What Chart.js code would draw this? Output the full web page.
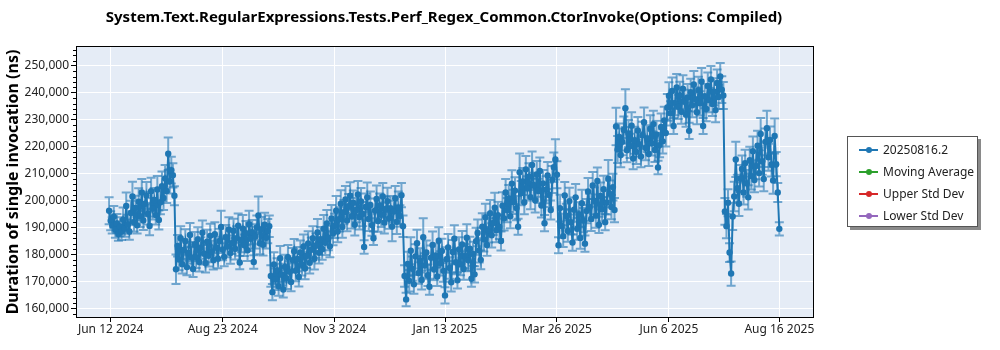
<!DOCTYPE html>
<html>
<head>
<meta charset="utf-8">
<script src="https://cdn.jsdelivr.net/npm/chart.js@4.4.1/dist/chart.umd.min.js"></script>
<style>
  html, body { margin: 0; padding: 0; background: #fff; }
  #wrap { position: relative; width: 1000px; height: 350px; }
  #legend {
    position: absolute; left: 847px; top: 136px; width: 131px; height: 91px;
    box-sizing: border-box; border: 1px solid #555; background: #fff;
    box-shadow: 3px 3px 0 #8a8a8a; padding-top: 2px;
    font: 12px "Noto Sans", sans-serif; color: #222;
  }
  #legend .row { height: 22px; line-height: 22px; position: relative; padding-left: 35px; white-space: nowrap; }
  #legend .sw { position: absolute; left: 11px; top: 10px; width: 19px; height: 1.5px; }
  #legend .sw i { position: absolute; left: 7px; top: -2.5px; width: 6px; height: 6px; border-radius: 50%; }
</style>
</head>
<body>
<div id="wrap">
  <canvas id="chart" width="1000" height="350"></canvas>
  <div id="legend"></div>
</div>
<script>
document.addEventListener('DOMContentLoaded', function () {

    /* ========================================================
       DATA  (one run per day, day 0 = Jun 12 2024; values in thousands of ns)
    ======================================================== */
    const TITLE = 'System.Text.RegularExpressions.Tests.Perf_Regex_Common.CtorInvoke(Options: Compiled)';
    const FIRST_DAY = -1;

    const valuesK = [
        // Jun 11 - Jul 23 2024
        196.2, 192.5, 190.8, 194.0, 189.2, 191.5, 187.6, 190.3, 188.4, 192.9, 189.6, 198.0, 191.2, 188.5, 195.4, 201.5, 192.0, 197.3, 190.8, 199.6,
        194.2, 203.0, 192.6, 198.8, 201.9, 195.1, 190.6, 203.5, 197.0, 200.2, 194.6, 204.1, 192.8, 199.4, 205.3, 201.0, 208.2, 203.6, 217.4, 207.1,
        211.3, 209.4, 201.8,
        // Jul 24 - Sep 22 2024
        174.5, 183.2, 178.1, 186.0, 176.4, 181.7, 184.9, 175.3, 180.6, 187.2, 178.9, 174.6, 183.8, 179.0, 185.6, 177.2, 182.4, 188.1, 180.3, 176.8,
        184.7, 179.5, 186.9, 181.1, 177.9, 187.5, 182.6, 178.4, 185.0, 190.2, 181.8, 179.1, 186.4, 183.0, 189.3, 180.5, 184.2, 188.8, 182.1, 186.0,
        190.7, 177.0, 185.3, 189.6, 183.4, 187.9, 181.6, 191.2, 185.8, 188.3, 177.2, 186.7, 190.0, 194.5, 184.1, 189.4, 183.6, 191.0, 186.2, 188.7,
        190.5,
        // Sep 23 - Dec 17 2024
        172.0, 166.0, 176.3, 170.8, 174.1, 168.2, 178.6, 172.5, 167.0, 175.4, 171.2, 179.0, 173.6, 169.8, 177.9, 181.2, 174.0, 178.3, 171.6, 180.7,
        176.2, 182.9, 174.8, 179.5, 184.1, 176.9, 181.8, 186.0, 178.4, 183.3, 188.2, 180.6, 185.7, 182.0, 189.6, 184.3, 191.5, 186.1, 183.0, 193.4,
        187.9, 190.6, 196.2, 188.5, 193.0, 198.8, 190.2, 195.7, 200.4, 192.6, 197.9, 201.8, 194.1, 199.2, 191.0, 196.5, 202.3, 193.8, 199.7, 195.0,
        182.8, 197.6, 201.2, 193.2, 198.4, 190.9, 186.0, 196.3, 200.6, 192.4, 198.1, 194.7, 201.5, 191.8, 196.9, 199.8, 193.5, 197.2, 190.4, 195.9,
        200.9, 192.1, 197.4, 194.3, 202.0, 190.5,
        // Dec 18 2024 - Feb 4 2025
        172.0, 163.3, 176.5, 170.2, 181.4, 174.7, 168.9, 179.3, 184.2, 173.1, 177.8, 170.5, 186.4, 175.9, 180.7, 172.3, 168.0, 178.8, 183.5, 174.4,
        179.6, 171.8, 185.1, 176.7, 181.3, 173.9, 164.8, 178.2, 182.6, 175.0, 169.7, 180.9, 185.8, 177.1, 170.4, 181.9, 176.3, 183.7, 174.6, 179.4,
        186.2, 177.8, 182.1, 171.0, 180.2, 172.6, 184.9, 188.0, 181.5,
        // Feb 5 - Mar 26 2025
        178.0, 190.3, 185.6, 193.8, 183.5, 188.9, 195.2, 187.1, 191.7, 197.4, 189.0, 194.6, 190.2, 185.0, 198.1, 193.4, 203.0, 196.5, 200.8, 194.2,
        206.3, 199.5, 203.7, 197.2, 190.3, 210.5, 202.8, 207.1, 199.4, 211.6, 204.5, 208.9, 201.3, 213.2, 205.8, 200.1, 209.7, 203.6, 211.0, 198.2,
        206.4, 191.6, 204.0, 209.3, 202.1, 196.5, 207.8, 212.4, 215.3, 209.6,
        // Mar 27 - May 2 2025
        183.4, 197.2, 190.6, 186.8, 201.9, 194.3, 188.7, 199.8, 192.0, 184.4, 196.6, 201.2, 189.5, 194.9, 186.1, 199.0, 192.7, 184.0, 196.1, 203.4,
        197.5, 193.2, 205.6, 199.9, 194.4, 207.3, 191.0, 201.7, 196.8, 204.2, 192.0, 199.3, 208.1, 202.5, 197.6, 205.0, 196.5,
        // May 3 - Jun 4 2025
        227.5, 219.0, 223.6, 216.9, 221.8, 226.2, 234.3, 218.7, 224.9, 220.3, 227.8, 215.6, 222.4, 218.1, 226.0, 220.9, 216.4, 224.3, 229.1, 219.5,
        223.0, 217.3, 226.7, 221.2, 228.4, 218.8, 224.6, 212.3, 220.6, 227.3, 222.0, 229.8, 225.1,
        // Jun 5 - Jul 11 2025
        234.6, 238.9, 232.4, 240.7, 227.7, 236.2, 242.0, 234.8, 239.1, 233.0, 241.5, 236.7, 231.9, 238.3, 225.9, 240.2, 235.4, 243.1, 237.6, 232.8,
        241.0, 236.1, 244.2, 227.7, 238.8, 234.0, 242.6, 237.3, 245.0, 235.9, 240.4, 233.6, 243.7, 238.5, 246.1, 241.2, 239.0,
        // Jul 12 - Aug 16 2025
        196.0, 190.5, 199.2, 180.7, 172.9, 194.1, 201.5, 215.3, 204.6, 198.8, 208.2, 211.7, 203.0, 213.9, 206.4, 201.2, 215.0, 209.1, 218.3, 207.6,
        212.9, 220.4, 210.2, 224.7, 214.6, 208.0, 221.8, 226.9, 216.1, 222.5, 213.4, 207.5, 224.0, 213.5, 203.0, 189.5
    ];

    const errorsK = [
        5.0, 3.5, 3.0, 4.0, 3.0, 3.5, 2.5, 3.5, 3.0, 4.5, 3.0, 5.0, 3.5, 3.0, 4.5, 5.5, 3.5, 4.5, 3.0, 5.0,
        4.0, 5.0, 3.5, 4.5, 5.0, 4.0, 3.5, 5.0, 4.0, 4.5, 3.5, 5.0, 3.5, 4.5, 5.5, 4.5, 5.0, 4.5, 6.0, 4.5,
        5.0, 4.5, 3.5,

        5.5, 4.0, 4.0, 4.5, 3.5, 4.0, 4.5, 3.0, 4.0, 4.5, 4.0, 3.0, 4.5, 4.0, 4.5, 3.5, 4.0, 4.5, 4.0, 3.5,
        4.5, 4.0, 4.5, 4.0, 3.5, 4.5, 4.0, 3.5, 4.5, 6.0, 4.0, 3.5, 4.5, 4.0, 4.5, 4.0, 4.0, 4.5, 4.0, 4.5,
        4.5, 2.5, 4.5, 5.0, 4.0, 4.5, 4.0, 5.0, 4.5, 4.5, 2.5, 4.5, 4.5, 7.0, 4.0, 4.5, 4.0, 4.5, 4.0, 4.5,
        4.0,

        4.0, 3.0, 4.5, 4.0, 4.5, 3.5, 4.5, 4.0, 3.0, 4.5, 4.0, 4.5, 4.0, 3.5, 4.5, 4.5, 4.0, 4.5, 3.5, 4.5,
        4.0, 4.5, 4.0, 4.5, 4.5, 4.0, 4.5, 4.5, 4.0, 4.5, 5.0, 4.0, 4.5, 4.0, 5.0, 4.5, 5.0, 4.5, 4.0, 5.0,
        4.5, 4.5, 5.5, 4.0, 4.5, 5.0, 4.0, 4.5, 5.0, 4.0, 4.5, 5.0, 4.5, 4.5, 4.0, 4.5, 5.0, 4.5, 5.0, 4.5,
        2.5, 5.0, 5.5, 4.5, 5.0, 4.0, 2.5, 4.5, 5.0, 4.0, 4.5, 4.5, 5.0, 4.0, 4.5, 5.0, 4.0, 4.5, 5.5, 4.0,
        4.5, 4.5, 6.0, 4.0, 4.5, 4.0,

        4.0, 2.5, 4.5, 4.0, 5.0, 4.5, 3.5, 4.5, 5.0, 4.0, 4.5, 3.5, 7.0, 4.5, 4.5, 4.0, 3.0, 4.5, 5.0, 4.0,
        4.5, 3.5, 5.0, 4.5, 4.5, 4.0, 3.0, 4.5, 5.0, 4.0, 3.5, 4.5, 5.0, 4.5, 3.0, 4.5, 4.0, 5.0, 4.0, 4.5,
        5.0, 4.0, 4.5, 3.0, 4.5, 3.0, 5.0, 5.0, 4.5,

        3.5, 5.0, 4.5, 5.0, 4.0, 4.5, 5.0, 4.5, 4.5, 5.5, 4.5, 5.0, 4.5, 3.5, 5.0, 4.5, 5.0, 4.5, 5.0, 4.5,
        5.0, 4.5, 5.0, 4.5, 3.0, 7.0, 4.5, 5.0, 4.5, 5.0, 4.5, 5.0, 4.5, 5.0, 4.5, 4.5, 5.0, 4.5, 5.0, 4.5,
        5.0, 3.0, 5.0, 5.0, 4.5, 3.5, 5.0, 5.5, 7.5, 5.0,

        3.0, 5.0, 4.5, 4.0, 5.0, 4.5, 4.0, 5.0, 4.5, 3.0, 4.5, 5.0, 4.0, 4.5, 4.0, 5.0, 4.5, 3.0, 4.5, 5.0,
        5.0, 4.5, 5.0, 5.0, 4.5, 5.0, 3.0, 5.0, 4.5, 5.0, 3.0, 4.5, 7.0, 5.0, 4.5, 5.0, 4.5,

        7.0, 5.0, 5.0, 4.5, 5.0, 5.0, 7.0, 4.5, 5.0, 4.5, 5.0, 4.0, 5.0, 4.5, 5.0, 4.5, 4.0, 5.0, 5.5, 4.5,
        5.0, 4.5, 5.0, 4.5, 5.0, 4.5, 5.0, 2.5, 4.5, 5.0, 4.5, 5.0, 5.0,

        5.0, 5.0, 4.5, 5.0, 3.0, 4.5, 5.0, 4.5, 5.0, 4.5, 5.0, 4.5, 4.5, 5.0, 3.0, 5.0, 4.5, 5.0, 4.5, 4.5,
        5.0, 4.5, 5.0, 3.0, 4.5, 4.5, 5.0, 4.5, 5.0, 4.5, 5.0, 4.5, 5.0, 4.5, 5.0, 5.0, 5.0,

        5.0, 4.5, 5.0, 3.5, 4.5, 5.0, 5.5, 6.5, 5.0, 4.5, 5.0, 5.0, 4.5, 5.0, 5.0, 4.5, 5.0, 5.0, 5.5, 4.5,
        5.0, 5.5, 5.0, 6.0, 5.0, 4.5, 5.0, 6.5, 5.0, 5.0, 4.5, 5.0, 6.5, 4.5, 3.5, 2.5
    ];

    const tickDays   = [0, 72, 144, 215, 287, 359, 430];
    const tickLabels = ['Jun 12 2024', 'Aug 23 2024', 'Nov 3 2024', 'Jan 13 2025', 'Mar 26 2025', 'Jun 6 2025', 'Aug 16 2025'];
    const yTicks     = [160000, 170000, 180000, 190000, 200000, 210000, 220000, 230000, 240000, 250000];

    const seriesNames  = ['20250816.2', 'Moving Average', 'Upper Std Dev', 'Lower Std Dev'];
    const seriesColors = ['#1f77b4', '#2ca02c', '#d62728', '#9467bd'];

    const FONT = '"Noto Sans", sans-serif';

    const values = valuesK.map(v => v * 1000);
    const errors = errorsK.map(v => v * 1000);

    /* ========================================================
       PLUGINS
    ======================================================== */
    const plotFrame = {
        id: 'plotFrame',
        beforeDraw(chart) {
            const { ctx, chartArea: a } = chart;
            ctx.save();
            ctx.fillStyle = '#e5ecf6';
            ctx.fillRect(a.left, a.top, a.right - a.left, a.bottom - a.top);
            ctx.restore();
        },
        afterDraw(chart) {
            const { ctx, chartArea: a } = chart;
            const y = chart.scales.y;
            ctx.save();
            ctx.strokeStyle = '#000';
            ctx.lineWidth = 1;
            ctx.strokeRect(a.left + 0.5, a.top + 0.5, a.right - a.left - 1, a.bottom - a.top - 1);
            // minor ticks on the y axis
            ctx.beginPath();
            for (let v = 156000; v <= 257000; v += 2000) {
                if (v % 10000 === 0) continue;
                const py = Math.round(y.getPixelForValue(v)) + 0.5;
                if (py < a.top || py > a.bottom) continue;
                ctx.moveTo(a.left - 3, py);
                ctx.lineTo(a.left, py);
            }
            ctx.stroke();
            // title
            ctx.fillStyle = '#000';
            ctx.font = 'bold 15px ' + FONT;
            ctx.textAlign = 'center';
            ctx.textBaseline = 'middle';
            ctx.fillText(TITLE, 444, 18);
            ctx.restore();
        }
    };

    const errorBars = {
        id: 'errorBars',
        beforeDatasetsDraw(chart) {
            const ctx  = chart.ctx;
            const ys   = chart.scales.y;
            const meta = chart.getDatasetMeta(0);
            ctx.save();
            ctx.strokeStyle = 'rgba(31, 119, 180, 0.6)';
            ctx.lineWidth = 2;
            meta.data.forEach((pt, i) => {
                const top = ys.getPixelForValue(values[i] + errors[i]);
                const bot = ys.getPixelForValue(values[i] - errors[i]);
                ctx.beginPath();
                ctx.moveTo(pt.x, top); ctx.lineTo(pt.x, bot);
                ctx.moveTo(pt.x - 4.5, top); ctx.lineTo(pt.x + 4.5, top);
                ctx.moveTo(pt.x - 4.5, bot); ctx.lineTo(pt.x + 4.5, bot);
                ctx.stroke();
            });
            ctx.restore();
        }
    };

    /* ========================================================
       CHART
    ======================================================== */
    const points = values.map((v, i) => ({ x: FIRST_DAY + i, y: v }));

    const datasets = seriesNames.map((name, i) => ({
        label: name,
        data: i === 0 ? points : [],
        borderColor: seriesColors[i],
        backgroundColor: seriesColors[i],
        borderWidth: 2,
        pointRadius: 3.2,
        pointBorderWidth: 0,
        tension: 0
    }));

    const ctx = document.getElementById('chart').getContext('2d');
    new Chart(ctx, {
        type: 'line',
        data: { datasets },
        options: {
            responsive: false,
            animation: false,
            layout: { padding: { top: 46, right: 186, bottom: 0, left: 0 } },
            plugins: {
                legend: { display: false },
                title: { display: false },
                tooltip: { enabled: false }
            },
            scales: {
                x: {
                    type: 'linear',
                    min: -22.3,
                    max: 452.3,
                    afterBuildTicks(scale) { scale.ticks = tickDays.map(v => ({ value: v })); },
                    afterFit(scale) { scale.height = 32; },
                    grid: { color: '#fff', lineWidth: 1, tickColor: '#000', tickLength: 4 },
                    border: { display: false },
                    ticks: {
                        padding: 0, color: '#222', maxRotation: 0, autoSkip: false,
                        font: { family: FONT, size: 12 },
                        callback: (v) => tickLabels[tickDays.indexOf(v)]
                    }
                },
                y: {
                    min: 156400,
                    max: 257400,
                    afterBuildTicks(scale) { scale.ticks = yTicks.map(v => ({ value: v })); },
                    afterFit(scale) { scale.width = 76; },
                    grid: { color: '#fff', lineWidth: 1, tickColor: '#000', tickLength: 5 },
                    border: { display: false },
                    ticks: {
                        padding: 2, color: '#222',
                        font: { family: FONT, size: 12 },
                        callback: (v) => v.toLocaleString('en-US')
                    },
                    title: {
                        display: true,
                        text: 'Duration of single invocation (ns)',
                        color: '#000',
                        font: { family: FONT, size: 16, weight: 'bold' },
                        padding: { top: 4, bottom: 0 }
                    }
                }
            }
        },
        plugins: [plotFrame, errorBars]
    });

    /* ========================================================
       LEGEND
    ======================================================== */
    document.getElementById('legend').innerHTML = seriesNames.map((name, i) => `
        <div class="row"><span class="sw" style="background:${seriesColors[i]}"><i style="background:${seriesColors[i]}"></i></span>${name}</div>
    `).join('');

});
</script>
</body>
</html>
